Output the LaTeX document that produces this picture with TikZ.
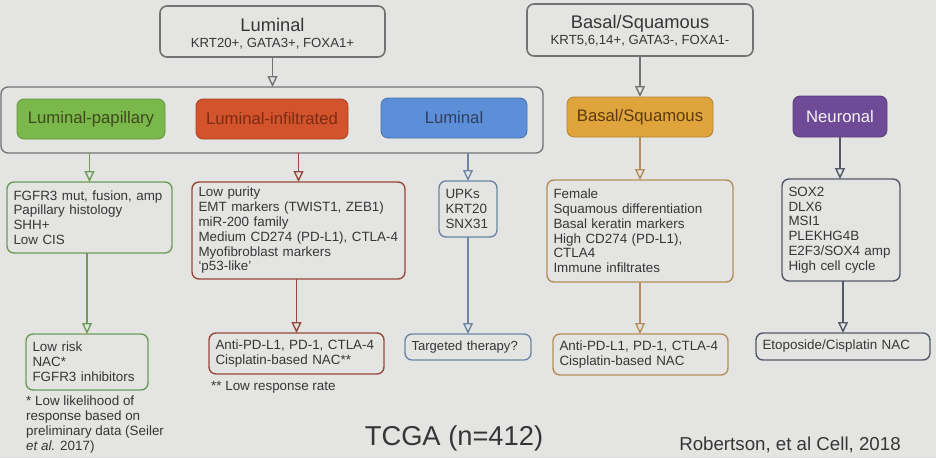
\documentclass[tikz,border=0pt]{standalone}
\usepackage{fontspec}
\setmainfont{Liberation Sans}
\usetikzlibrary{arrows.meta}
\definecolor{bg}{HTML}{E4E5E2}
\definecolor{txt}{HTML}{363636}
\definecolor{topgray}{HTML}{727272}
\definecolor{grnF}{HTML}{7BB84B}
\definecolor{grnT}{HTML}{3E4A1C}
\definecolor{grnB}{HTML}{6E9C58}
\definecolor{redF}{HTML}{D3532D}
\definecolor{redT}{HTML}{7B2C12}
\definecolor{redB}{HTML}{94493D}
\definecolor{bluF}{HTML}{5C8FD8}
\definecolor{bluT}{HTML}{2E3F60}
\definecolor{bluB}{HTML}{6C86A4}
\definecolor{orgF}{HTML}{E0A43C}
\definecolor{orgT}{HTML}{5C3A0E}
\definecolor{orgB}{HTML}{B48E5A}
\definecolor{purF}{HTML}{6F4A97}
\definecolor{purT}{HTML}{F4F4F4}
\definecolor{darkB}{HTML}{535868}
\begin{document}
\begin{tikzpicture}[x=1pt,y=-1pt,
  base/.style={rounded corners=7pt, inner sep=0pt, outer sep=0pt},
  topbox/.style={base, draw=topgray, line width=1.6pt, align=center, text=txt,
     font=\fontsize{13.2}{16}\selectfont},
  subbox/.style={base, line width=0.8pt, font=\fontsize{16.7}{18}\selectfont},
  txtbox/.style={base, line width=1.4pt, align=left, inner xsep=6.5pt, text=txt,
     font=\fontsize{13.4}{14.8}\selectfont},
  conn/.style={line width=1.4pt, -{Triangle[open,length=11pt,width=10pt]}},
  note/.style={inner sep=0pt, align=left, text=txt, font=\fontsize{13.4}{15}\selectfont}
]
\fill[bg] (0,0) rectangle (936,458);
\useasboundingbox (0,0) rectangle (936,458);

% top boxes
\node[topbox, minimum width=225pt, minimum height=51pt] (lumtop) at (272.5,31.5)
  {\rule{0pt}{17pt}{\fontsize{18.3}{20}\selectfont Luminal}\\KRT20+, GATA3+, FOXA1+};
\node[topbox, minimum width=226pt, minimum height=52pt] (bastop) at (640,30)
  {\rule{0pt}{15pt}{\fontsize{18.3}{20}\selectfont Basal/Squamous}\\KRT5,6,14+, GATA3-, FOXA1-};

% group box
\node[base, draw=topgray, line width=1.3pt, minimum width=542pt, minimum height=66pt] (grp) at (272,120) {};

% subtype boxes
\node[subbox, fill=grnF, draw=grnF!80!black, text=grnT, minimum width=148pt, minimum height=40pt] (lp) at (91,119) {Luminal-papillary};
\node[subbox, fill=redF, draw=redF!80!black, text=redT, minimum width=152pt, minimum height=40pt] (li) at (272,119) {Luminal-infiltrated};
\node[subbox, fill=bluF, draw=bluF!80!black, text=bluT, minimum width=146pt, minimum height=40pt] (lb) at (454,118) {Luminal};
\node[subbox, fill=orgF, draw=orgF!80!black, text=orgT, minimum width=146pt, minimum height=40pt] (bs) at (640,117) {Basal/Squamous};
\node[subbox, fill=purF, draw=purF!80!black, text=purT, minimum width=94pt, minimum height=41pt] (ne) at (840,116.5) {Neuronal};

% feature boxes
\node[txtbox, draw=grnB, text width=152pt, minimum height=71pt] (t1) at (89.5,217.5)
  {FGFR3 mut, fusion, amp\\Papillary histology\\SHH+\\Low CIS};
\node[txtbox, draw=redB, text width=200pt, minimum height=97pt] (t2) at (298.5,230.5)
  {Low purity\\EMT markers (TWIST1, ZEB1)\\miR-200 family\\Medium CD274 (PD-L1), CTLA-4\\Myofibroblast markers\\`p53-like'};
\node[txtbox, draw=bluB, text width=45pt, minimum height=56pt] (t3) at (468,209)
  {UPKs\\KRT20\\SNX31};
\node[txtbox, draw=orgB, text width=173pt, minimum height=102pt] (t4) at (640,231)
  {Female\\Squamous differentiation\\Basal keratin markers\\High CD274 (PD-L1),\\CTLA4\\Immune infiltrates};
\node[txtbox, draw=darkB, text width=105pt, minimum height=102pt] (t5) at (841,230)
  {SOX2\\DLX6\\MSI1\\PLEKHG4B\\E2F3/SOX4 amp\\High cell cycle};

% therapy boxes
\node[txtbox, draw=grnB, text width=109pt, minimum height=56pt] (b1) at (87,362)
  {Low risk\\NAC*\\FGFR3 inhibitors};
\node[txtbox, draw=redB, text width=162pt, minimum height=41pt] (b2) at (296.5,353.5)
  {Anti-PD-L1, PD-1, CTLA-4\\Cisplatin-based NAC**};
\node[txtbox, draw=bluB, text width=113pt, minimum height=26pt, font=\fontsize{13.1}{14.8}\selectfont] (b3) at (468,347)
  {Targeted therapy?};
\node[txtbox, draw=orgB, text width=162pt, minimum height=41pt] (b4) at (640.5,354.5)
  {Anti-PD-L1, PD-1, CTLA-4\\Cisplatin-based NAC};
\node[txtbox, draw=darkB, text width=161pt, minimum height=27pt] (b5) at (843,346.5)
  {Etoposide/Cisplatin NAC};

% notes
\node[note, anchor=base west] (n2) at (211,390) {** Low response rate};
\node[note, anchor=north west] (n1) at (26,395.5)
  {* Low likelihood of\\response based on\\preliminary data (Seiler\\\textit{et al.} 2017)};
\node[anchor=base, inner sep=0pt, text=txt, font=\fontsize{27.3}{30}\selectfont] (tcga) at (454,445) {TCGA (n=412)};
\node[anchor=base, inner sep=0pt, text=txt, font=\fontsize{18.7}{20}\selectfont] (ref) at (790,450) {Robertson, et al Cell, 2018};

% connectors
\draw[conn, draw=topgray] (lumtop.south) -- (grp.north -| lumtop.south);
\draw[conn, draw=topgray] (bastop.south) -- (bs.north);
\draw[conn, draw=grnB] (t1.north |- grp.south) -- (t1.north);
\draw[conn, draw=redB] (t2.north |- grp.south) -- (t2.north);
\draw[conn, draw=bluB] (t3.north |- grp.south) -- (t3.north);
\draw[conn, draw=orgB] (bs.south) -- (t4.north);
\draw[conn, draw=darkB] (ne.south) -- (ne.south |- t5.north);
\draw[conn, draw=grnB] (b1.north |- t1.south) -- (b1.north);
\draw[conn, draw=redB] (b2.north |- t2.south) -- (b2.north);
\draw[conn, draw=bluB] (t3.south) -- (b3.north);
\draw[conn, draw=orgB] (t4.south) -- (t4.south |- b4.north);
\draw[conn, draw=darkB] (b5.north |- t5.south) -- (b5.north);
\end{tikzpicture}
\end{document}
